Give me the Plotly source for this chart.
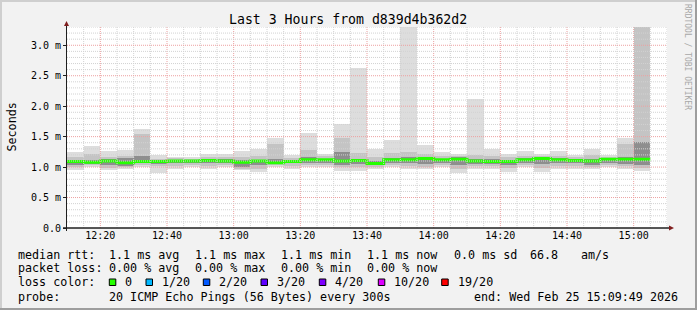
import plotly.graph_objects as go
import pandas as pd

# ---------------- data ----------------
start_time = "2026-02-25 12:10:00"
n_bars = 35
rtt_min = [0.95, 1.00, 0.95, 0.97, 1.00, 0.90, 0.97, 1.00, 0.97, 1.00, 0.95, 0.92, 1.00, 0.97, 1.00, 1.00, 0.93, 0.93,
           0.97, 1.00, 0.97, 0.97, 1.00, 0.90, 0.97, 0.97, 0.92, 1.00, 0.92, 0.97, 0.97, 0.97, 1.00, 0.97, 0.93]
rtt_lo2 = [1.00, 1.03, 0.99, 1.00, 1.04, 1.02, 1.02, 1.04, 1.02, 1.03, 0.97, 0.97, 1.03, 1.02, 1.04, 1.04, 1.00, 1.00,
           1.00, 1.04, 1.02, 1.00, 1.03, 0.97, 1.01, 1.02, 0.98, 1.04, 0.98, 1.01, 1.02, 1.00, 1.04, 1.02, 0.98]
rtt_lo3 = [1.04, 1.05, 1.03, 1.02, 1.07, 1.05, 1.06, 1.06, 1.06, 1.07, 1.00, 1.03, 1.05, 1.06, 1.07, 1.07, 1.04, 1.05,
           1.03, 1.07, 1.06, 1.05, 1.07, 1.04, 1.05, 1.05, 1.03, 1.07, 1.05, 1.06, 1.06, 1.03, 1.07, 1.05, 1.03]
rtt_med = [1.09, 1.08, 1.10, 1.07, 1.09, 1.09, 1.10, 1.10, 1.11, 1.10, 1.08, 1.10, 1.07, 1.09, 1.12, 1.12, 1.10, 1.11,
           1.06, 1.12, 1.12, 1.14, 1.12, 1.13, 1.10, 1.09, 1.09, 1.12, 1.14, 1.12, 1.11, 1.10, 1.13, 1.13, 1.13]
rtt_hi3 = [1.12, 1.12, 1.13, 1.15, 1.18, 1.11, 1.12, 1.12, 1.13, 1.13, 1.12, 1.12, 1.14, 1.12, 1.17, 1.14, 1.25, 1.14,
           1.10, 1.15, 1.16, 1.16, 1.14, 1.16, 1.14, 1.13, 1.12, 1.15, 1.16, 1.15, 1.13, 1.13, 1.15, 1.16, 1.41]
rtt_hi2 = [1.17, 1.21, 1.16, 1.19, 1.55, 1.13, 1.15, 1.14, 1.17, 1.17, 1.16, 1.18, 1.38, 1.15, 1.28, 1.18, 1.48, 1.23,
           1.16, 1.23, 1.25, 1.22, 1.18, 1.19, 1.20, 1.18, 1.16, 1.18, 1.19, 1.19, 1.17, 1.20, 1.17, 1.38, 3.40]
rtt_max = [1.24, 1.35, 1.26, 1.28, 1.63, 1.20, 1.17, 1.17, 1.22, 1.21, 1.26, 1.29, 1.48, 1.20, 1.56, 1.22, 1.70, 2.63,
           1.30, 1.44, 3.40, 1.37, 1.24, 1.21, 2.12, 1.29, 1.21, 1.26, 1.22, 1.27, 1.20, 1.30, 1.20, 1.48, 3.40]

y_tick_vals = [0.0, 0.5, 1.0, 1.5, 2.0, 2.5, 3.0]
y_tick_text = ["0.0", "0.5 m", "1.0 m", "1.5 m", "2.0 m", "2.5 m", "3.0 m"]

title_text = "Last 3 Hours from d839d4b362d2"
legend_rtt = ["median rtt:", "1.1 ms avg", "1.1 ms max", "1.1 ms min", "1.1 ms now", "0.0 ms sd", "66.8", "am/s"]
legend_loss = ["packet loss:", "0.00 % avg", "0.00 % max", "0.00 % min", "0.00 % now"]
loss_labels = ["0", "1/20", "2/20", "3/20", "4/20", "10/20", "19/20"]
loss_colors = ["#26ff00", "#00b8ff", "#0059ff", "#5e00ff", "#7e00ff", "#dd00ff", "#ff0000"]
probe_text = "20 ICMP Echo Pings (56 Bytes) every 300s"
end_text = "end: Wed Feb 25 15:09:49 2026"

# ---------------- layout geometry ----------------
W, H = 697, 310
L, R, T, B = 67, 30, 27, 82
PW, PH = W - L - R, H - T - B
FONT = "DejaVu Sans Mono"


def px(x):
    return (x - L) / PW


def py(y):
    return (H - B - y) / PH


t0 = pd.Timestamp(start_time)
starts = [t0 + pd.Timedelta(minutes=5 * i) for i in range(n_bars)]
centers = [t + pd.Timedelta(seconds=150) for t in starts]
x_end = t0 + pd.Timedelta(hours=3)

fig = go.Figure()


def band(lo, hi, color):
    fig.add_trace(go.Bar(
        x=centers, base=lo, y=[h - l for l, h in zip(lo, hi)], width=300000,
        marker=dict(color=color, line=dict(width=0)), hoverinfo="skip", showlegend=False))


band(rtt_min, rtt_max, "#dddddd")
band(rtt_lo2, rtt_hi2, "#c4c4c4")
band(rtt_lo3, rtt_hi3, "#8e8e8e")

fig.add_trace(go.Scatter(
    x=starts + [starts[-1] + pd.Timedelta(minutes=5)], y=rtt_med + [rtt_med[-1]],
    mode="lines", line=dict(color="#26ff00", width=3, shape="hv"), showlegend=False, hoverinfo="skip"))

shapes = []
# grid (drawn above the smoke, like rrdtool)
MINOR = "#d2d2d2"
MAJOR = "#eda0a0"
for k in range(1, 37):
    t = t0 + pd.Timedelta(minutes=5 * k)
    major = t.minute % 20 == 0
    shapes.append(dict(type="line", layer="above", xref="x", yref="paper", x0=t, x1=t, y0=0, y1=1,
                       line=dict(color=MAJOR if major else MINOR, width=1, dash="1px,1px")))
for k in range(1, 34):
    v = k / 10
    major = k % 5 == 0
    shapes.append(dict(type="line", layer="above", xref="paper", yref="y", x0=0, x1=1, y0=v, y1=v,
                       line=dict(color=MAJOR if major else MINOR, width=1, dash="1px,1px")))
# axes
shapes.append(dict(type="line", layer="above", xref="paper", yref="paper", x0=px(66.5), x1=px(66.5),
                   y0=py(231), y1=py(24), line=dict(color="#1f1f1f", width=1)))
shapes.append(dict(type="line", layer="above", xref="paper", yref="paper", x0=px(63), x1=px(670),
                   y0=py(228), y1=py(228), line=dict(color="#1f1f1f", width=1.5)))
# arrows
shapes.append(dict(type="path", layer="above", xref="paper", yref="paper",
                   path=f"M {px(64)} {py(26)} L {px(69)} {py(26)} L {px(66.5)} {py(21)} Z",
                   fillcolor="#801f1f", line=dict(width=0)))
shapes.append(dict(type="path", layer="above", xref="paper", yref="paper",
                   path=f"M {px(669)} {py(225.5)} L {px(669)} {py(230.5)} L {px(674)} {py(228)} Z",
                   fillcolor="#801f1f", line=dict(width=0)))
# frame (shade A top/left, shade B bottom/right)
shapes.append(dict(type="rect", layer="above", xref="paper", yref="paper", x0=px(0), x1=px(W), y0=py(0), y1=py(2),
                   fillcolor="#cfcfcf", line=dict(width=0)))
shapes.append(dict(type="rect", layer="above", xref="paper", yref="paper", x0=px(0), x1=px(2), y0=py(0), y1=py(H),
                   fillcolor="#cfcfcf", line=dict(width=0)))
shapes.append(dict(type="rect", layer="above", xref="paper", yref="paper", x0=px(0), x1=px(W), y0=py(H - 2), y1=py(H),
                   fillcolor="#9e9e9e", line=dict(width=0)))
shapes.append(dict(type="rect", layer="above", xref="paper", yref="paper", x0=px(W - 2), x1=px(W), y0=py(0), y1=py(H),
                   fillcolor="#9e9e9e", line=dict(width=0)))

annotations = []


def text(x, y, s, size=11.7, anchor="left", color="#000000", angle=0):
    annotations.append(dict(xref="paper", yref="paper", x=px(x), y=py(y), text=s, showarrow=False,
                            xanchor=anchor, yanchor="middle", textangle=angle,
                            font=dict(family=FONT, size=size, color=color)))


text(347.5, 19.3, title_text, size=13.2, anchor="center")
text(11, 127.5, "Seconds", size=11.7, anchor="center", angle=-90)
text(688, 57, "RRDTOOL / TOBI OETIKER", size=8, anchor="center", color="#a8a8a8", angle=90)

rtt_x = [16, 107, 193, 279, 365, 452, 528, 579]
for x, s in zip(rtt_x, legend_rtt):
    text(x, 255, s)
for x, s in zip(rtt_x, legend_loss):
    text(x, 268.3, s)
text(16, 282.3, "loss color:")
sq_x = [109.3, 146, 203.3, 261, 319.3, 378.3, 441.7]
for x, s, c in zip(sq_x, loss_labels, loss_colors):
    shapes.append(dict(type="rect", layer="above", xref="paper", yref="paper",
                       x0=px(x), x1=px(x + 6.5), y0=py(279), y1=py(285.5),
                       fillcolor=c, line=dict(color="#000000", width=1)))
    text(x + 14, 282.3, s)
text(16, 296.7, "probe:")
text(107, 296.7, probe_text)
text(680, 296.7, end_text, anchor="right")

fig.update_layout(
    width=W, height=H, margin=dict(l=L, r=R, t=T, b=B),
    paper_bgcolor="#f2f2f2", plot_bgcolor="#ffffff",
    barmode="overlay", bargap=0, showlegend=False,
    shapes=shapes, annotations=annotations,
    xaxis=dict(type="date", range=[t0, x_end], showgrid=False, zeroline=False, showline=False,
               tick0="2026-02-25 12:20:00", dtick=20 * 60 * 1000, tickformat="%H:%M",
               ticks="", tickfont=dict(family=FONT, size=10, color="#000000"), fixedrange=True),
    yaxis=dict(range=[0, 3.3], showgrid=False, zeroline=False, showline=False,
               tickvals=y_tick_vals, ticktext=y_tick_text, ticks="outside", ticklen=3,
               tickcolor="#1f1f1f", tickfont=dict(family=FONT, size=10, color="#000000"), fixedrange=True),
)

fig.write_html("out.html")
